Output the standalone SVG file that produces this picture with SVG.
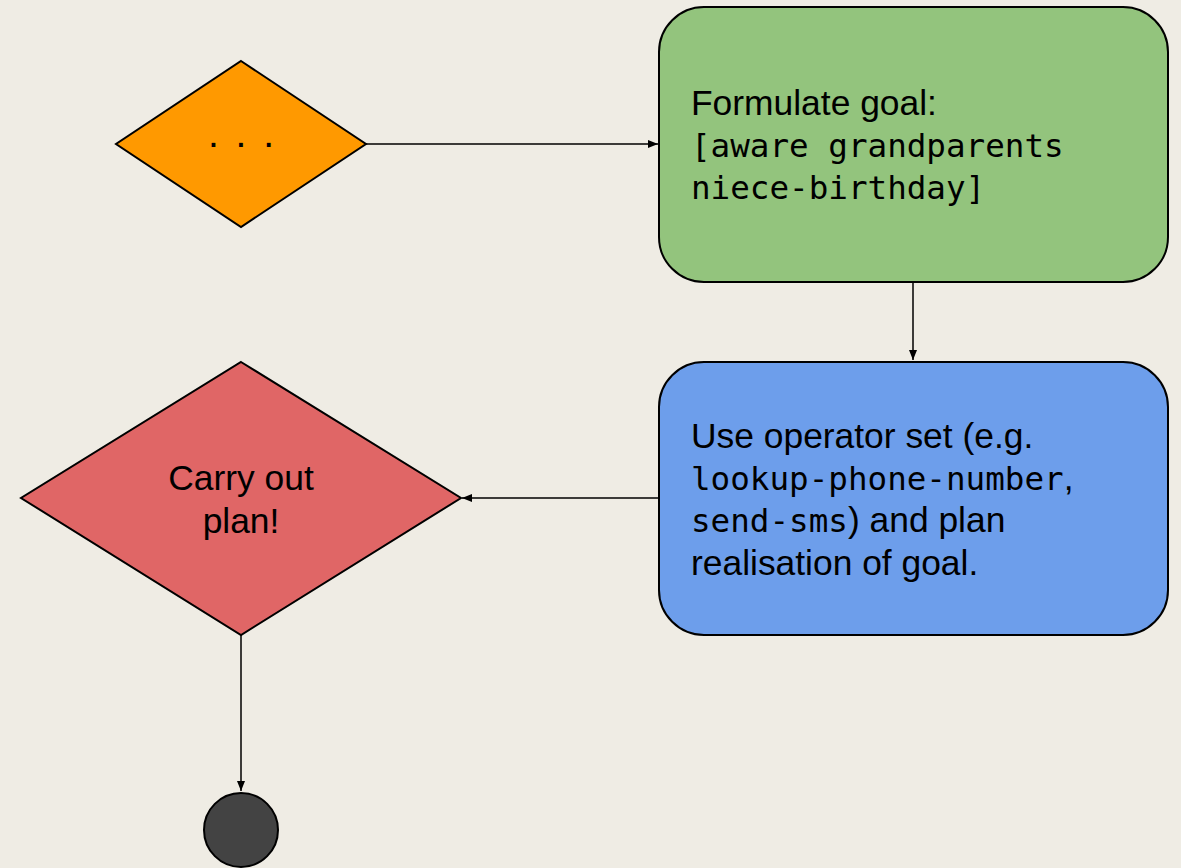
<svg xmlns="http://www.w3.org/2000/svg" width="1181" height="868" viewBox="0 0 1181 868">
<style>
.sans{font-family:"Liberation Sans",Arial,sans-serif;font-size:35.4px;fill:#000}
.mono{font-family:"DejaVu Sans Mono","Liberation Mono",monospace;font-size:32.6px;fill:#000}
.shape{stroke:#000;stroke-width:2}
.conn{stroke:#000;stroke-width:1.5;fill:none;marker-end:url(#arr)}
</style>
<defs>
<marker id="arr" viewBox="0 0 10 10" refX="10" refY="5" markerWidth="10" markerHeight="10" markerUnits="userSpaceOnUse" orient="auto">
<path d="M0,1 L10,5 L0,9 Z" fill="#000"/>
</marker>
</defs>
<rect width="1181" height="868" fill="#EFECE4"/>
<g id="connectors">
<line class="conn" x1="366" y1="144" x2="658" y2="144"/>
<line class="conn" x1="913" y1="283" x2="913" y2="360"/>
<line class="conn" x1="659" y1="498" x2="462" y2="498"/>
<line class="conn" x1="241" y1="635" x2="241" y2="791"/>
</g>
<g id="start">
<polygon class="shape" points="241,61 366,144 241,227 116,144" fill="#FF9900"/>
<text class="mono" x="241" y="146.5" text-anchor="middle" style="font-size:23px;font-weight:bold">. . .</text>
</g>
<g id="goal">
<rect class="shape" x="659" y="7" width="509" height="275" rx="45" fill="#93C47D"/>
<text class="sans" x="691" y="115">Formulate goal:</text>
<text class="mono" x="691" y="157">[aware grandparents</text>
<text class="mono" x="691" y="199">niece-birthday]</text>
</g>
<g id="plan">
<rect class="shape" x="659" y="362" width="509" height="273" rx="45" fill="#6D9EEB"/>
<text class="sans" x="691" y="448">Use operator set (e.g.</text>
<text x="691" y="490"><tspan class="mono">lookup-phone-number</tspan><tspan class="sans">,</tspan></text>
<text x="691" y="532"><tspan class="mono">send-sms</tspan><tspan class="sans">) and plan</tspan></text>
<text class="sans" x="691" y="575">realisation of goal.</text>
</g>
<g id="execute">
<polygon class="shape" points="241,362 461,498 241,635 21,498" fill="#E06666"/>
<text class="sans" x="241" y="490" text-anchor="middle">Carry out</text>
<text class="sans" x="241" y="533" text-anchor="middle">plan!</text>
</g>
<g id="end">
<circle class="shape" cx="241" cy="830" r="37" fill="#434343"/>
</g>
</svg>
